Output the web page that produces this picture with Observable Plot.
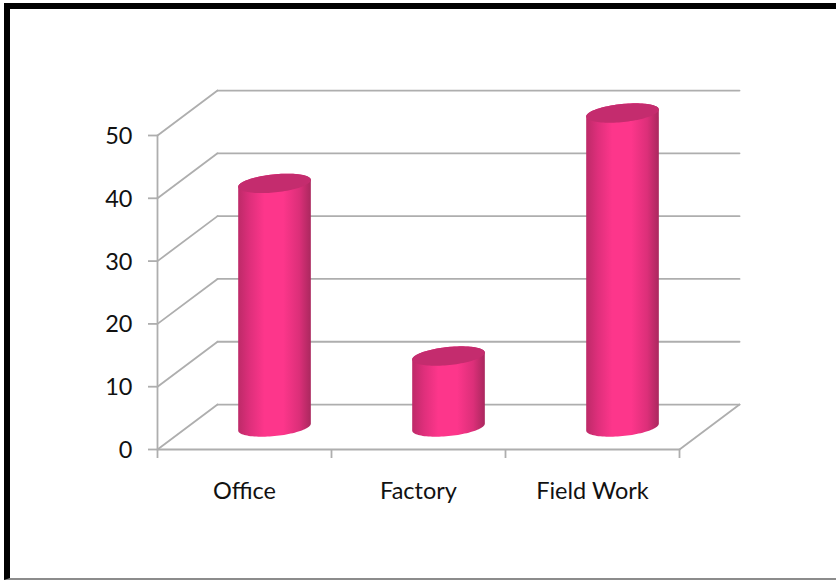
<!DOCTYPE html>
<html>
<head>
<meta charset="utf-8">
<script src="https://cdn.jsdelivr.net/npm/d3@7"></script>
<script src="https://cdn.jsdelivr.net/npm/@observablehq/plot@0.6"></script>
<style>
  html, body { margin: 0; padding: 0; background: #fff; overflow: hidden; }
  #chart { position: relative; width: 836px; height: 580px; }
  #chart svg { display: block; background: transparent; font-variant-ligatures: none; }
  #chart .frame {
    position: absolute; left: 4px; top: 3px; right: 0; bottom: 0;
    border-left: 6px solid #000; border-top: 6px solid #000; border-bottom: 2px solid #8c8c8c;
  }
</style>
</head>
<body>
<div id="chart"><div class="frame"></div></div>
<script>
// Share of work by setting, drawn as oblique 3D cylinders.
const categories = ["Office", "Factory", "Field Work"];
const values = [38.8, 11.3, 50];
const valueTicks = [0, 10, 20, 30, 40, 50];
const categoryEdges = [0, 1, 2, 3];

// Oblique projection: one unit of floor depth moves along both scales.
const depthX = 0.345;
const depthY = 7.16;
const radiusAcross = 0.195;
const radiusDeep = 0.216;
const axisGrey = "#aeaeae";
const capColor = "#c42c6e";

const project = (cat, value, depth) => ({
  x: cat + depthX * depth,
  y: value + depthY * depth
});

// A floor-parallel circle around a category's centre at a given height.
const rim = (cat, value, t) =>
  project(cat + radiusAcross * Math.cos(t), value, 0.5 + radiusDeep * Math.sin(t));

// Angle at which the projected circle reaches its rightmost point.
const silhouette = Math.atan2(radiusDeep * depthX * 174, radiusAcross * 174);

const arc = (cat, value, from, to, n = 48) =>
  d3.range(n + 1).map((i) => rim(cat, value, from + (to - from) * i / n));

const wallLines = valueTicks.map((v) => [project(0, v, 1), project(3, v, 1)]);
const sideLines = valueTicks.map((v) => [project(0, v, 0), project(0, v, 1)]);
const floorEdges = [
  [project(0, 0, 0), project(3, 0, 0)],
  [project(3, 0, 0), project(3, 0, 1)],
  [project(0, 0, 0), project(0, 50, 0)]
];
const segments = [...wallLines, ...sideLines, ...floorEdges];

const centers = categories.map((_, i) => i + 0.5);
const bodies = centers.map((c, i) => [
  ...arc(c, 0, silhouette, silhouette - Math.PI),
  ...arc(c, values[i], silhouette - Math.PI, silhouette - 2 * Math.PI)
]);
const caps = centers.map((c, i) => arc(c, values[i], 0, 2 * Math.PI, 96));

const chart = Plot.plot({
  width: 836,
  height: 580,
  marginLeft: 157,
  marginRight: 157,
  marginTop: 135,
  marginBottom: 131,
  style: { fontFamily: "Lato, sans-serif", background: "transparent", overflow: "visible" },
  x: { domain: [0, 3], label: null },
  y: { domain: [0, 50], label: null },
  marks: [
    () => {
      const svg = d3.create("svg:g");
      const g = svg.append("defs").append("linearGradient").attr("id", "cylinder");
      [[0, "#bd2a68"], [0.16, "#de2f7b"], [0.36, "#fd368b"], [0.62, "#fd368b"],
       [0.84, "#dc2f79"], [1, "#aa285e"]].forEach(([o, c]) =>
        g.append("stop").attr("offset", o).attr("stop-color", c));
      return svg.node();
    },
    segments.map((s) => Plot.line(s, { x: "x", y: "y", stroke: axisGrey, strokeWidth: 1.8 })),
    Plot.axisY({ ticks: valueTicks, tickSize: 9, text: null, stroke: axisGrey, strokeWidth: 1.8, label: null }),
    Plot.axisY({ ticks: valueTicks, tickSize: 0, tickPadding: 25, dy: 1, fontSize: 23.5, fill: "#111", label: null }),
    Plot.axisX({ ticks: categoryEdges, tickSize: 9, text: null, stroke: axisGrey, strokeWidth: 1.8, label: null }),
    Plot.axisX({
      ticks: centers, tickSize: 0, tickPadding: 33, fontSize: 23.5, fill: "#111", label: null,
      tickFormat: (d) => categories[d - 0.5]
    }),
    bodies.map((b) => Plot.line(b, { x: "x", y: "y", fill: "url(#cylinder)", stroke: "none", curve: "linear" })),
    caps.map((c) => Plot.line(c, { x: "x", y: "y", fill: capColor, stroke: "none", curve: "linear" }))
  ]
});
document.getElementById("chart").prepend(chart);
</script>
</body>
</html>
